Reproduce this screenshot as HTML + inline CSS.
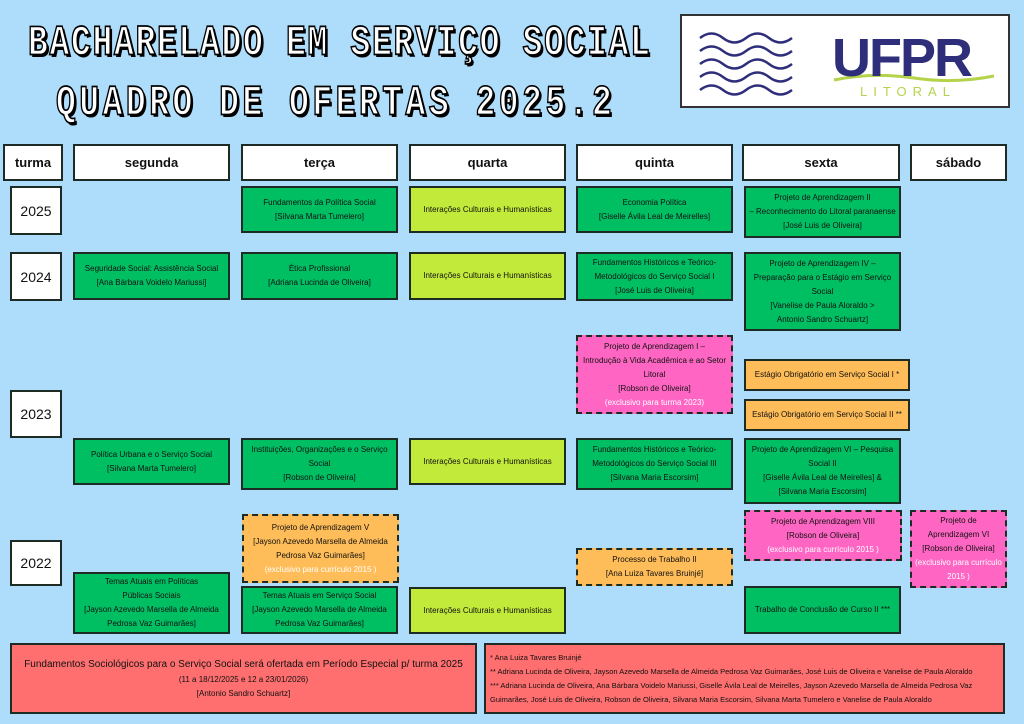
<!DOCTYPE html>
<html><head><meta charset="utf-8"><style>
body{margin:0;width:1024px;height:724px;background:#aedcfb;position:relative;overflow:hidden;font-family:"Liberation Sans Narrow","Liberation Sans",sans-serif;}
.b{position:absolute;box-sizing:border-box;border:2px solid #1e2a24;display:flex;flex-direction:column;justify-content:center;align-items:center;text-align:center;font-size:8px;line-height:14px;color:#111;padding:0 3px;}
.h{background:#fff;font-size:13px;font-weight:bold;}
.t{background:#fff;font-size:14px;}
.g{background:#00bf63}.l{background:#c2ea3a}.o{background:#ffbd59}.p{background:#ff66c4}.r{background:#ff6f6f}
.d{border-style:dashed;}
.w{color:#fff}
.ti{position:absolute;font-family:"Liberation Mono",monospace;font-weight:bold;font-size:33px;line-height:33px;color:#fff;-webkit-text-stroke:1.3px #000;text-shadow:2px 2px 0 #000;letter-spacing:1.7px;white-space:nowrap;transform:scaleY(1.3);transform-origin:0 0}
</style></head><body>
<div class="ti" style="left:28px;top:22px">BACHARELADO EM SERVIÇO SOCIAL</div>
<div class="ti" style="left:56px;top:82px;letter-spacing:3.5px">QUADRO DE OFERTAS 2025.2</div>
<div style="position:absolute;left:680px;top:14px;width:330px;height:94px;box-sizing:border-box;border:2px solid #333;background:#fff">
<svg width="326" height="90" style="position:absolute;left:0;top:0">
<g fill="none" stroke="#2e2e7a" stroke-width="2.5">
<path d="M18 22 q11.5 -9 23 0 t23 0 t23 0 t23 0"/><path d="M18 35 q11.5 -9 23 0 t23 0 t23 0 t23 0"/><path d="M18 48 q11.5 -9 23 0 t23 0 t23 0 t23 0"/><path d="M18 61 q11.5 -9 23 0 t23 0 t23 0 t23 0"/><path d="M18 74 q11.5 -9 23 0 t23 0 t23 0 t23 0"/></g>
<path d="M152 64 q40 -8 80 -2 t80 -2" stroke="#b5d34a" stroke-width="3" fill="none"/>
<text x="150" y="60" font-family="Liberation Sans" font-weight="bold" font-size="54" fill="#2e2e7a" letter-spacing="-2">UFPR</text>
<text x="178" y="80" font-family="Liberation Sans" font-size="13" fill="#b5d34a" letter-spacing="6">LITORAL</text>
</svg></div>

<div class="b h" style="left:3px;top:144px;width:60px;height:37px">turma</div>
<div class="b h" style="left:73px;top:144px;width:157px;height:37px">segunda</div>
<div class="b h" style="left:241px;top:144px;width:157px;height:37px">terça</div>
<div class="b h" style="left:409px;top:144px;width:157px;height:37px">quarta</div>
<div class="b h" style="left:576px;top:144px;width:157px;height:37px">quinta</div>
<div class="b h" style="left:742px;top:144px;width:158px;height:37px">sexta</div>
<div class="b h" style="left:910px;top:144px;width:97px;height:37px">sábado</div>

<div class="b t" style="left:10px;top:186px;width:52px;height:49px">2025</div>
<div class="b t" style="left:10px;top:252px;width:52px;height:49px">2024</div>
<div class="b t" style="left:10px;top:390px;width:52px;height:48px">2023</div>
<div class="b t" style="left:10px;top:540px;width:52px;height:46px">2022</div>

<div class="b g" style="left:241px;top:186px;width:157px;height:47px">Fundamentos da Política Social<br>[Silvana Marta Tumelero]</div>
<div class="b l" style="left:409px;top:186px;width:157px;height:47px">Interações Culturais e Humanísticas</div>
<div class="b g" style="left:576px;top:186px;width:157px;height:47px">Economia Política<br>[Giselle Ávila Leal de Meirelles]</div>
<div class="b g" style="left:744px;top:186px;width:157px;height:52px">Projeto de Aprendizagem II<br>– Reconhecimento do Litoral paranaense<br>[José Luis de Oliveira]</div>

<div class="b g" style="left:73px;top:252px;width:157px;height:48px">Seguridade Social: Assistência Social<br>[Ana Bárbara Voidelo Mariussi]</div>
<div class="b g" style="left:241px;top:252px;width:157px;height:48px">Ética Profissional<br>[Adriana Lucinda de Oliveira]</div>
<div class="b l" style="left:409px;top:252px;width:157px;height:48px">Interações Culturais e Humanísticas</div>
<div class="b g" style="left:576px;top:252px;width:157px;height:49px">Fundamentos Históricos e Teórico-<br>Metodológicos do Serviço Social I<br>[José Luis de Oliveira]</div>
<div class="b g" style="left:744px;top:252px;width:157px;height:79px">Projeto de Aprendizagem IV –<br>Preparação para o Estágio em Serviço<br>Social<br>[Vanelise de Paula Aloraldo &gt;<br>Antonio Sandro Schuartz]</div>

<div class="b p d" style="left:576px;top:335px;width:157px;height:79px">Projeto de Aprendizagem I –<br>Introdução à Vida Acadêmica e ao Setor<br>Litoral<br>[Robson de Oliveira]<br><span class="w">(exclusivo para turma 2023)</span></div>
<div class="b o" style="left:744px;top:359px;width:166px;height:32px">Estágio Obrigatório em Serviço Social I *</div>
<div class="b o" style="left:744px;top:399px;width:166px;height:32px">Estágio Obrigatório em Serviço Social II **</div>

<div class="b g" style="left:73px;top:438px;width:157px;height:47px">Política Urbana e o Serviço Social<br>[Silvana Marta Tumelero]</div>
<div class="b g" style="left:241px;top:438px;width:157px;height:52px">Instituições, Organizações e o Serviço<br>Social<br>[Robson de Oliveira]</div>
<div class="b l" style="left:409px;top:438px;width:157px;height:47px">Interações Culturais e Humanísticas</div>
<div class="b g" style="left:576px;top:438px;width:157px;height:52px">Fundamentos Históricos e Teórico-<br>Metodológicos do Serviço Social III<br>[Silvana Maria Escorsim]</div>
<div class="b g" style="left:744px;top:438px;width:157px;height:66px">Projeto de Aprendizagem VI – Pesquisa<br>Social II<br>[Giselle Ávila Leal de Meirelles] &amp;<br>[Silvana Maria Escorsim]</div>

<div class="b p d" style="left:744px;top:510px;width:158px;height:51px">Projeto de Aprendizagem VIII<br>[Robson de Oliveira]<br><span class="w">(exclusivo para currículo 2015 )</span></div>
<div class="b p d" style="left:910px;top:510px;width:97px;height:78px">Projeto de<br>Aprendizagem VI<br>[Robson de Oliveira]<br><span class="w">(exclusivo para currículo<br>2015 )</span></div>
<div class="b o d" style="left:242px;top:514px;width:157px;height:69px">Projeto de Aprendizagem V<br>[Jayson Azevedo Marsella de Almeida<br>Pedrosa Vaz Guimarães]<br><span class="w">(exclusivo para currículo 2015 )</span></div>
<div class="b o d" style="left:576px;top:548px;width:157px;height:38px">Processo de Trabalho II<br>[Ana Luiza Tavares Bruinjé]</div>

<div class="b g" style="left:73px;top:572px;width:157px;height:62px">Temas Atuais em Políticas<br>Públicas Sociais<br>[Jayson Azevedo Marsella de Almeida<br>Pedrosa Vaz Guimarães]</div>
<div class="b g" style="left:241px;top:586px;width:157px;height:48px">Temas Atuais em Serviço Social<br>[Jayson Azevedo Marsella de Almeida<br>Pedrosa Vaz Guimarães]</div>
<div class="b l" style="left:409px;top:587px;width:157px;height:47px">Interações Culturais e Humanísticas</div>
<div class="b g" style="left:744px;top:586px;width:157px;height:48px">Trabalho de Conclusão de Curso II ***</div>

<div class="b r" style="left:10px;top:643px;width:467px;height:71px;font-size:10px;line-height:16px"><span>Fundamentos Sociológicos para o Serviço Social será ofertada em Período Especial p/ turma 2025</span><span style="font-size:8px;line-height:14px">(11 a 18/12/2025 e 12 a 23/01/2026)<br>[Antonio Sandro Schuartz]</span></div>
<div class="b r" style="left:484px;top:643px;width:521px;height:71px;align-items:flex-start;text-align:left;font-size:7.5px;line-height:14px;padding:0 4px">
<div>* Ana Luiza Tavares Bruinjé</div>
<div>** Adriana Lucinda de Oliveira, Jayson Azevedo Marsella de Almeida Pedrosa Vaz Guimarães, José Luis de Oliveira e Vanelise de Paula Aloraldo</div>
<div>*** Adriana Lucinda de Oliveira, Ana Bárbara Voidelo Mariussi, Giselle Ávila Leal de Meirelles, Jayson Azevedo Marsella de Almeida Pedrosa Vaz Guimarães, José Luis de Oliveira, Robson de Oliveira, Silvana Maria Escorsim, Silvana Marta Tumelero e Vanelise de Paula Aloraldo</div>
</div>
</body></html>
